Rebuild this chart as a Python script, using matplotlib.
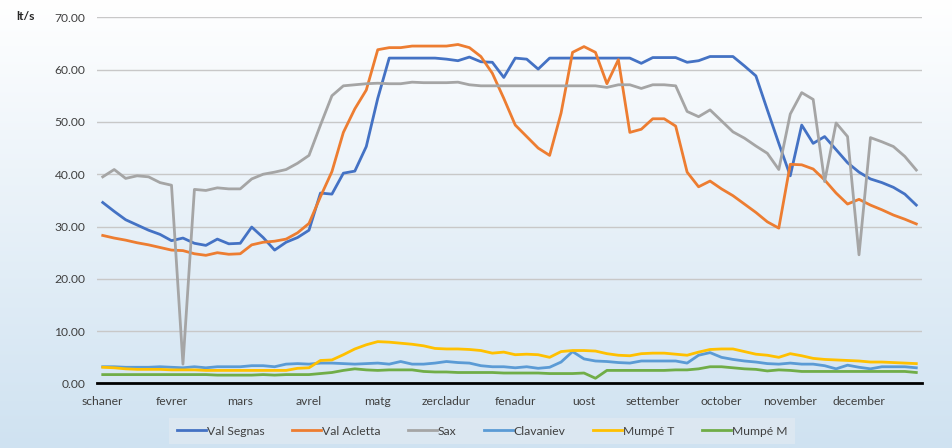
import numpy as np
import matplotlib.pyplot as plt
from matplotlib.colors import LinearSegmentedColormap

plt.rcParams['font.family'] = ['Lato', 'DejaVu Sans']

months = ['schaner', 'fevrer', 'mars', 'avrel', 'matg', 'zercladur',
          'fenadur', 'uost', 'settember', 'october', 'november', 'december']

val_segnas = [34.6, 32.9, 31.3, 30.3, 29.3, 28.5, 27.3, 27.8, 26.8, 26.4, 27.6, 26.7,
              26.8, 29.9, 27.9, 25.5, 27.0, 27.9, 29.3, 36.4, 36.2, 40.2, 40.6, 45.3,
              54.5, 62.2, 62.2, 62.2, 62.2, 62.2, 62.0, 61.7, 62.4, 61.5, 61.4, 58.5,
              62.2, 62.0, 60.1, 62.2, 62.2, 62.2, 62.2, 62.2, 62.2, 62.2, 62.2, 61.2,
              62.3, 62.3, 62.3, 61.4, 61.7, 62.5, 62.5, 62.5, 60.7, 58.8, 52.3, 45.9,
              39.7, 49.4, 45.9, 47.2, 44.7, 42.2, 40.4, 39.1, 38.4, 37.5, 36.2, 34.1]
val_acletta = [28.3, 27.8, 27.4, 26.9, 26.5, 26.0, 25.5, 25.4, 24.8, 24.5, 25.0, 24.7,
               24.8, 26.5, 27.0, 27.2, 27.6, 28.8, 30.6, 35.7, 40.5, 48.0, 52.5, 56.1,
               63.8, 64.2, 64.2, 64.5, 64.5, 64.5, 64.5, 64.8, 64.2, 62.5, 59.3, 54.5,
               49.4, 47.2, 45.0, 43.6, 51.7, 63.3, 64.4, 63.3, 57.3, 61.9, 48.0, 48.6,
               50.6, 50.6, 49.2, 40.4, 37.6, 38.7, 37.2, 35.9, 34.3, 32.7, 30.9, 29.7,
               41.9, 41.8, 41.0, 38.9, 36.4, 34.3, 35.2, 34.1, 33.2, 32.2, 31.4, 30.5]
sax = [39.5, 40.9, 39.2, 39.7, 39.5, 38.4, 37.9, 3.7, 37.1, 36.9, 37.4, 37.2,
       37.2, 39.1, 40.0, 40.4, 40.9, 42.1, 43.6, 49.4, 55.0, 56.9, 57.1, 57.3,
       57.4, 57.3, 57.3, 57.6, 57.5, 57.5, 57.5, 57.6, 57.1, 56.9, 56.9, 56.9,
       56.9, 56.9, 56.9, 56.9, 56.9, 56.9, 56.9, 56.9, 56.6, 57.1, 57.1, 56.4,
       57.1, 57.1, 56.9, 52.0, 51.0, 52.3, 50.2, 48.1, 46.9, 45.4, 44.0, 40.9,
       51.5, 55.6, 54.3, 38.6, 49.8, 47.2, 24.6, 47.0, 46.2, 45.3, 43.4, 40.8]
clavaniev = [3.2, 3.2, 3.1, 3.1, 3.1, 3.2, 3.1, 3.0, 3.2, 3.0, 3.2, 3.2,
             3.2, 3.4, 3.4, 3.2, 3.7, 3.8, 3.7, 3.9, 3.9, 3.8, 3.7, 3.8,
             3.9, 3.7, 4.2, 3.7, 3.7, 3.9, 4.2, 4.0, 3.9, 3.4, 3.2, 3.2,
             3.0, 3.2, 2.9, 3.1, 4.1, 6.1, 4.7, 4.3, 4.2, 4.0, 3.9, 4.3,
             4.3, 4.3, 4.3, 3.9, 5.4, 5.9, 5.0, 4.6, 4.3, 4.1, 3.8, 3.7,
             3.9, 3.7, 3.7, 3.4, 2.8, 3.5, 3.1, 2.8, 3.2, 3.2, 3.2, 3.0]
mumpe_t = [3.1, 3.0, 2.8, 2.7, 2.7, 2.7, 2.6, 2.6, 2.6, 2.5, 2.5, 2.5,
           2.5, 2.5, 2.5, 2.5, 2.5, 2.9, 3.0, 4.4, 4.5, 5.5, 6.6, 7.4,
           8.0, 7.9, 7.7, 7.5, 7.2, 6.7, 6.6, 6.6, 6.5, 6.3, 5.8, 6.0,
           5.5, 5.6, 5.5, 5.0, 6.1, 6.3, 6.3, 6.2, 5.7, 5.4, 5.3, 5.7,
           5.8, 5.8, 5.6, 5.4, 6.0, 6.5, 6.6, 6.6, 6.1, 5.6, 5.4, 5.0,
           5.7, 5.3, 4.8, 4.6, 4.5, 4.4, 4.3, 4.1, 4.1, 4.0, 3.9, 3.8]
mumpe_m = [1.7, 1.7, 1.7, 1.7, 1.7, 1.7, 1.7, 1.7, 1.7, 1.7, 1.6, 1.6,
           1.6, 1.6, 1.7, 1.6, 1.7, 1.7, 1.7, 1.9, 2.1, 2.5, 2.8, 2.6,
           2.5, 2.6, 2.6, 2.6, 2.3, 2.2, 2.2, 2.1, 2.1, 2.1, 2.1, 2.0,
           2.0, 2.0, 2.0, 1.9, 1.9, 1.9, 2.0, 1.0, 2.5, 2.5, 2.5, 2.5,
           2.5, 2.5, 2.6, 2.6, 2.8, 3.2, 3.2, 3.0, 2.8, 2.7, 2.4, 2.6,
           2.5, 2.3, 2.3, 2.3, 2.3, 2.3, 2.3, 2.3, 2.3, 2.3, 2.3, 2.1]

series = [('Val Segnas', val_segnas, '#4472C4'),
          ('Val Acletta', val_acletta, '#ED7D31'),
          ('Sax', sax, '#A5A5A5'),
          ('Clavaniev', clavaniev, '#5B9BD5'),
          ('Mumpé T', mumpe_t, '#FFC000'),
          ('Mumpé M', mumpe_m, '#70AD47')]

fig = plt.figure(figsize=(9.53, 4.48), dpi=100)

# background gradient, white on top to light blue below
bg = fig.add_axes([0, 0, 1, 1], zorder=-10)
cmap = LinearSegmentedColormap.from_list('bg', ['#ffffff', '#cfe2f1'])
bg.imshow(np.linspace(0, 1, 256).reshape(-1, 1), aspect='auto', cmap=cmap,
          extent=[0, 1, 0, 1], origin='upper')
bg.axis('off')

ax = fig.add_axes([0.1018, 0.144, 0.8657, 0.8174])
ax.patch.set_alpha(0)

x = np.arange(len(val_segnas))
for name, vals, col in series:
    ax.plot(x, vals, color=col, lw=2.0, label=name, solid_joinstyle='round')

ax.set_xlim(-0.5, len(x) - 0.5)
ax.set_ylim(0, 70)
ax.set_yticks(np.arange(0, 71, 10))
ax.set_yticklabels(['%.2f' % v for v in np.arange(0, 71, 10)])
ax.set_xticks(np.arange(0, len(x), 6))
ax.set_xticklabels(months)
ax.grid(axis='y', color='#c8c8c8', lw=1.0)
ax.set_axisbelow(True)
for s in ['top', 'right', 'left']:
    ax.spines[s].set_visible(False)
ax.spines['bottom'].set_color('black')
ax.spines['bottom'].set_linewidth(2.0)
ax.spines['bottom'].set_zorder(5)
ax.tick_params(axis='both', length=0, labelsize=8.7, colors='#404040')
ax.tick_params(axis='y', pad=8.5)
ax.tick_params(axis='x', pad=9)

fig.text(16 / 953, 1 - 17 / 448, 'lt/s', fontsize=8.7, fontweight='bold',
         color='#262626', va='center', ha='left')

leg = fig.legend(loc='center', bbox_to_anchor=(482 / 953, 1 - 431 / 448), ncol=6,
                 fontsize=8.7, frameon=True, handlelength=2.4, handletextpad=0.05,
                 columnspacing=2.3, borderpad=0.65, fancybox=False)
leg.get_frame().set_facecolor('#dfe9f2')
leg.get_frame().set_edgecolor('none')
for t in leg.get_texts():
    t.set_color('#404040')

fig.savefig('out.png', dpi=100)
